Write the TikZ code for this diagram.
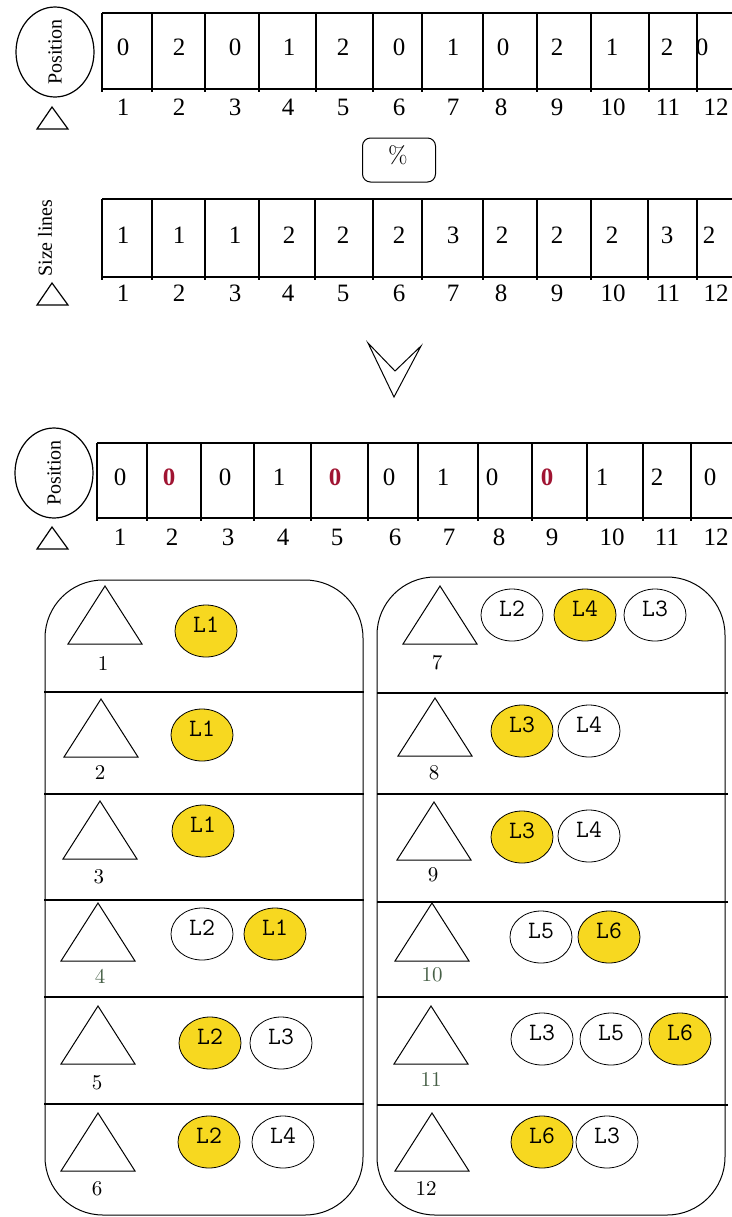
\documentclass[tikz,border=0pt]{standalone}
\usepackage{fontspec}
\newfontfamily\timesf{Liberation Serif}
\usetikzlibrary{shapes.geometric, positioning}
\definecolor{lyellow}{RGB}{247,216,32}
\definecolor{darkred}{RGB}{160,20,50}
\definecolor{greyg}{RGB}{70,95,70}

\tikzset{
    cellnum/.style={font=\timesf\fontsize{12.5}{14}\selectfont, inner sep=0pt},
    sidetxt/.style={font=\timesf\fontsize{10}{12}\selectfont, rotate=90, inner sep=0pt},
    posell/.style={draw, ellipse, minimum width=39pt, minimum height=45pt, inner sep=0pt},
    lnode/.style={draw, ellipse, minimum width=31pt, minimum height=26pt, inner sep=0pt, line width=0.4pt},
    lsel/.style={lnode, fill=lyellow},
    ltext/.style={font=\ttfamily\fontsize{12.5}{13}\selectfont, yshift=3pt, inner sep=0pt},
    rownum/.style={font=\fontsize{10.5}{12}\selectfont, inner sep=0pt},
    bigtri/.pic={\draw (-37,58) -- (0,0) -- (37,58) -- cycle;},
    smalltri/.pic={\draw (-15,22) -- (0,0) -- (16,22) -- cycle;}
}

\begin{document}
\begin{tikzpicture}[x=0.5pt, y=-0.5pt, line width=0.6pt]
    \useasboundingbox (0,0) rectangle (732,1217);

    % first array: position
    \node[posell] (pos1) at (55,52) {};
    \node[sidetxt] (pos1t) at (pos1.center) {Position};
    \pic at (52,107) {smalltri};
    \draw (102,13) -- (732,13);
    \draw (102,89) -- (732,89);
    \foreach \x in {102,152,205,259,316,373,422,483,537,591,649,697}
        \draw (\x,13) -- (\x,92);
    \foreach \x/\v [count=\i] in {123/0,179/2,235/0,289/1,343/2,399/0,453/1,503/0,557/2,612/1,667/2,702/0}
        \node[cellnum] (a\i) at (\x,47) {\v};
    \foreach \x [count=\i] in {123,179,235,288,343,399,453,501,557,613,668,716}
        \node[cellnum] (ia\i) at (\x,107) {\i};

    \node[draw, rounded corners=4pt, minimum width=36.5pt, minimum height=22pt,
          line width=0.5pt] (pct) at (399,160) {};
    \node[font=\fontsize{12}{14}\selectfont, inner sep=0pt] (pctt) at (398,155) {\%};

    % second array: size lines
    \node[sidetxt] (size) at (45,238) {Size lines};
    \pic at (52,283) {smalltri};
    \draw (102,199) -- (732,199);
    \draw (102,277) -- (732,277);
    \foreach \x in {102,152,205,259,315,373,422,483,537,591,648,697}
        \draw (\x,199) -- (\x,280);
    \foreach \x/\v [count=\i] in {123/1,179/1,235/1,289/2,343/2,399/2,453/3,502/2,557/2,612/2,667/3,709/2}
        \node[cellnum] (b\i) at (\x,235) {\v};
    \foreach \x [count=\i] in {123,179,235,288,343,399,453,501,557,613,668,716}
        \node[cellnum] (ib\i) at (\x,293) {\i};

    % chevron
    \draw[line width=0.5pt] (368,343) -- (394,397) -- (421,346) -- (395,371) -- cycle;

    % third array: new position
    \node[posell] (pos2) at (54,473) {};
    \node[sidetxt] (pos2t) at (pos2.center) {Position};
    \pic at (52,527) {smalltri};
    \draw (97,443) -- (732,443);
    \draw (97,518) -- (732,518);
    \foreach \x in {97,147,201,254,311,368,418,478,532,587,643,691}
        \draw (\x,443) -- (\x,521);
    \foreach \x/\v/\c [count=\i] in {120/0/black,169/{\textbf{0}}/darkred,225/0/black,279/1/black,
            335/{\textbf{0}}/darkred,389/0/black,443/1/black,492/0/black,547/{\textbf{0}}/darkred,
            602/1/black,657/2/black,710/0/black}
        \node[cellnum, text=\c] (c\i) at (\x,477) {\v};
    \foreach \x [count=\i] in {120,172,228,283,337,395,449,499,552,612,667,716}
        \node[cellnum] (ic\i) at (\x,537) {\i};

    % panels
    \draw[line width=0.5pt, rounded corners=29pt] (45,580) rectangle (363,1215);
    \draw[line width=0.5pt, rounded corners=29pt] (377,577) rectangle (725,1215);
    \foreach \y in {692,794,900,997,1104}
        \draw (44,\y) -- (364,\y);
    \foreach \y in {693,794,902,997,1105}
        \draw (377,\y) -- (728,\y);

    % left panel rows
    \pic[line width=0.5pt] at (105,586) {bigtri};
    \node[rownum] (n1) at (103,663) {1};
    \node[lsel, label={[ltext]center:L1}] (l1a) at (206,631) {};

    \pic[line width=0.5pt] at (101,699) {bigtri};
    \node[rownum] (n2) at (100,772) {2};
    \node[lsel, label={[ltext]center:L1}] (l2a) at (202,735) {};

    \pic[line width=0.5pt] at (100,801) {bigtri};
    \node[rownum] (n3) at (99,877) {3};
    \node[lsel, label={[ltext]center:L1}] (l3a) at (203,831) {};

    \pic[line width=0.5pt] at (98,903) {bigtri};
    \node[rownum, text=greyg] (n4) at (100,976) {4};
    \node[lnode, label={[ltext]center:L2}] (l4a) at (202,934) {};
    \node[lsel, label={[ltext]center:L1}] (l4b) at (275,934) {};

    \pic[line width=0.5pt] at (98,1006) {bigtri};
    \node[rownum] (n5) at (97,1083) {5};
    \node[lsel, label={[ltext]center:L2}] (l5a) at (210,1043) {};
    \node[lnode, label={[ltext]center:L3}] (l5b) at (281,1043) {};

    \pic[line width=0.5pt] at (98,1113) {bigtri};
    \node[rownum] (n6) at (97,1189) {6};
    \node[lsel, label={[ltext]center:L2}] (l6a) at (209,1142) {};
    \node[lnode, label={[ltext]center:L4}] (l6b) at (283,1142) {};

    % right panel rows
    \pic[line width=0.5pt] at (440,586) {bigtri};
    \node[rownum] (n7) at (437,663) {7};
    \node[lnode, label={[ltext]center:L2}] (l7a) at (512,615) {};
    \node[lsel, label={[ltext]center:L4}] (l7b) at (585,615) {};
    \node[lnode, label={[ltext]center:L3}] (l7c) at (655,615) {};

    \pic[line width=0.5pt] at (435,698) {bigtri};
    \node[rownum] (n8) at (434,773) {8};
    \node[lsel, label={[ltext]center:L3}] (l8a) at (522,731) {};
    \node[lnode, label={[ltext]center:L4}] (l8b) at (589,731) {};

    \pic[line width=0.5pt] at (434,802) {bigtri};
    \node[rownum] (n9) at (433,875) {9};
    \node[lsel, label={[ltext]center:L3}] (l9a) at (522,837) {};
    \node[lnode, label={[ltext]center:L4}] (l9b) at (589,836) {};

    \pic[line width=0.5pt] at (432,903) {bigtri};
    \node[rownum, text=greyg] (n10) at (432,975) {10};
    \node[lnode, label={[ltext]center:L5}] (l10a) at (541,937) {};
    \node[lsel, label={[ltext]center:L6}] (l10b) at (609,937) {};

    \pic[line width=0.5pt] at (431,1006) {bigtri};
    \node[rownum, text=greyg] (n11) at (431,1079) {11};
    \node[lnode, label={[ltext]center:L3}] (l11a) at (542,1039) {};
    \node[lnode, label={[ltext]center:L5}] (l11b) at (611,1039) {};
    \node[lsel, label={[ltext]center:L6}] (l11c) at (680,1039) {};

    \pic[line width=0.5pt] at (432,1113) {bigtri};
    \node[rownum] (n12) at (426,1188) {12};
    \node[lsel, label={[ltext]center:L6}] (l12a) at (542,1142) {};
    \node[lnode, label={[ltext]center:L3}] (l12b) at (607,1142) {};
\end{tikzpicture}
\end{document}
